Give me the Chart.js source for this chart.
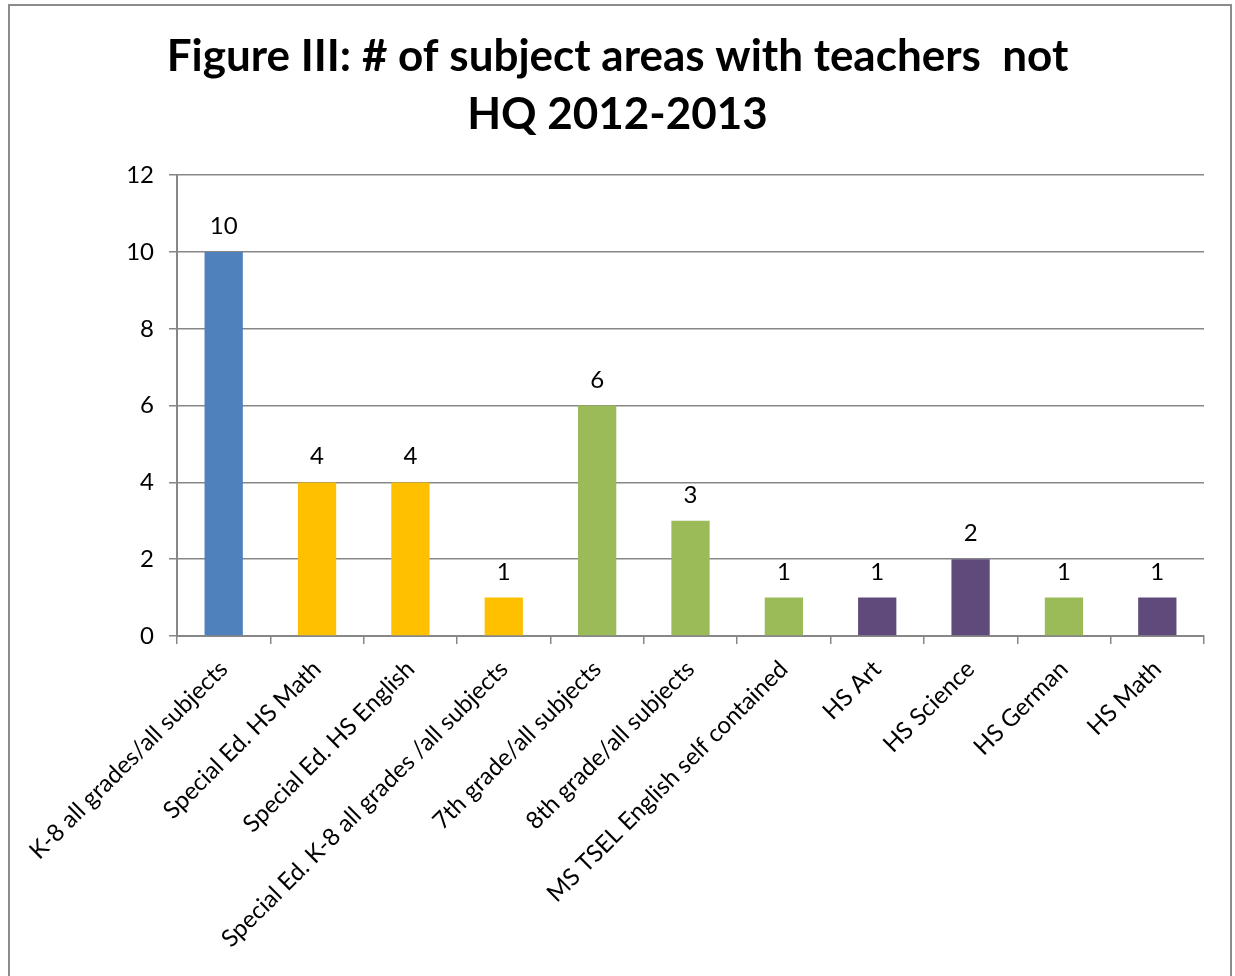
<!DOCTYPE html>
<html>
<head>
<meta charset="utf-8">
<title>Figure III</title>
<script src="https://cdn.jsdelivr.net/npm/chart.js@4.4.1/dist/chart.umd.min.js"></script>
<style>
  html, body { margin: 0; padding: 0; background: #ffffff; }
  #wrap { position: relative; width: 1235px; height: 976px; }
</style>
</head>
<body>
<div id="wrap"><canvas id="chart" width="1235" height="976"></canvas></div>
<script>
// Subject areas and the number of teachers not highly qualified in each
const categories = [
  "K-8 all grades/all subjects",
  "Special Ed. HS Math",
  "Special Ed. HS English",
  "Special Ed. K-8 all grades /all subjects",
  "7th grade/all subjects",
  "8th grade/all subjects",
  "MS TSEL English self contained",
  "HS Art",
  "HS Science",
  "HS German",
  "HS Math"
];
const counts = [10, 4, 4, 1, 6, 3, 1, 1, 2, 1, 1];
const barColors = [
  "#4F81BD",
  "#FFC000", "#FFC000", "#FFC000",
  "#9BBB59", "#9BBB59", "#9BBB59",
  "#604A7B", "#604A7B",
  "#9BBB59",
  "#604A7B"
];
const yTicks = [0, 2, 4, 6, 8, 10, 12];
const titleLines = ["Figure III: # of subject areas with teachers  not", "HQ 2012-2013"];

const FONT = "Lato, 'Open Sans', sans-serif";
const GRAY = "#878787";

// White page plus the thin frame around the chart
const framePlugin = {
  id: "frame",
  beforeDraw(chart) {
    const ctx = chart.ctx;
    ctx.save();
    ctx.fillStyle = "#ffffff";
    ctx.fillRect(0, 0, chart.width, chart.height);
    ctx.strokeStyle = "#8c8c8c";
    ctx.lineWidth = 2;
    ctx.strokeRect(9, 5, 1222, 1000);
    ctx.restore();
  }
};

// Value written above each bar
const valueLabels = {
  id: "valueLabels",
  afterDatasetsDraw(chart) {
    const ctx = chart.ctx;
    const meta = chart.getDatasetMeta(0);
    ctx.save();
    ctx.font = "24px " + FONT;
    ctx.fillStyle = "#000000";
    ctx.textAlign = "center";
    ctx.textBaseline = "alphabetic";
    meta.data.forEach((bar, i) => {
      ctx.fillText(String(chart.data.datasets[0].data[i]), bar.x, bar.y - 18);
    });
    ctx.restore();
  }
};

new Chart(document.getElementById("chart"), {
  type: "bar",
  data: {
    labels: categories,
    datasets: [{
      data: counts,
      backgroundColor: barColors,
      borderWidth: 0,
      categoryPercentage: 1.0,
      barPercentage: 0.41
    }]
  },
  options: {
    responsive: false,
    animation: false,
    devicePixelRatio: 1,
    layout: { padding: { left: 31, right: 31, top: 0, bottom: 0 } },
    plugins: {
      legend: { display: false },
      tooltip: { enabled: false },
      title: {
        display: true,
        text: titleLines,
        color: "#000000",
        font: { family: FONT, size: 44, weight: "bold", lineHeight: 1.32 },
        padding: { top: 28, bottom: 31 }
      }
    },
    scales: {
      x: {
        offset: true,
        grid: {
          display: true,
          offset: true,
          drawOnChartArea: false,
          drawTicks: true,
          tickLength: 8,
          color: GRAY,
          lineWidth: 1.5
        },
        border: { display: true, color: GRAY, width: 2 },
        ticks: {
          autoSkip: false,
          maxRotation: 45,
          minRotation: 45,
          padding: 11,
          color: "#000000",
          font: { family: FONT, size: 24 }
        },
        afterFit(scale) { scale.height = 340; }
      },
      y: {
        min: 0,
        max: 12,
        afterBuildTicks(scale) { scale.ticks = yTicks.map(v => ({ value: v })); },
        grid: {
          color: GRAY,
          lineWidth: 1.5,
          tickLength: 8
        },
        border: { display: true, color: GRAY, width: 2 },
        ticks: {
          padding: 15,
          color: "#000000",
          font: { family: FONT, size: 24 }
        },
        afterFit(scale) { scale.width = 146; }
      }
    }
  },
  plugins: [framePlugin, valueLabels]
});
</script>
</body>
</html>
